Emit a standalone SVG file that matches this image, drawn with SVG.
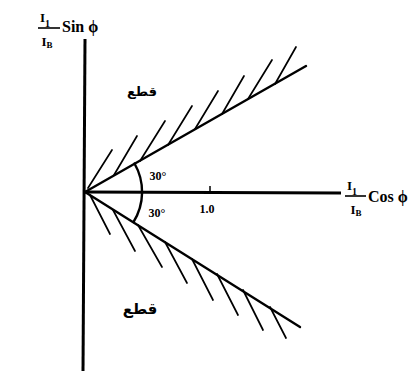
<svg xmlns="http://www.w3.org/2000/svg" width="419" height="371" viewBox="0 0 419 371">
<style>
.ax{stroke:#000;stroke-width:3;fill:none}
.bd{stroke:#000;stroke-width:2.4;fill:none;stroke-linecap:round}
.h{stroke:#000;stroke-width:1.7;fill:none;stroke-linecap:round}
.t{font-family:"Liberation Serif","DejaVu Serif",serif;font-weight:bold;fill:#000}
.ar{font-family:"DejaVu Sans","Noto Sans",sans-serif;font-weight:bold;fill:#000}
</style>
<rect width="419" height="371" fill="#fff"/>
<g id="axes">
<line class="ax" x1="85" y1="39" x2="83" y2="371"/>
<line class="ax" x1="85" y1="192" x2="341" y2="193"/>
<line stroke="#000" stroke-width="1.5" x1="210" y1="186" x2="210" y2="192"/>
</g>
<g id="connectors">
<line class="bd" x1="85" y1="192" x2="306" y2="66"/>
<line class="bd" x1="85" y1="192" x2="300" y2="327"/>
<g id="upper-hatch">
<line class="h" x1="88" y1="188" x2="112" y2="150"/>
<line class="h" x1="114" y1="175" x2="137" y2="136"/>
<line class="h" x1="140" y1="161" x2="165" y2="121"/>
<line class="h" x1="168" y1="145" x2="192" y2="106"/>
<line class="h" x1="195" y1="129" x2="218" y2="91"/>
<line class="h" x1="222" y1="114" x2="244" y2="76"/>
<line class="h" x1="248" y1="99" x2="272" y2="60"/>
<line class="h" x1="275" y1="84" x2="296" y2="47"/>
</g>
<g id="lower-hatch">
<line class="h" x1="90" y1="195" x2="110" y2="234"/>
<line class="h" x1="113" y1="210" x2="135" y2="251"/>
<line class="h" x1="138" y1="225" x2="162" y2="267"/>
<line class="h" x1="165" y1="242" x2="187" y2="283"/>
<line class="h" x1="192" y1="259" x2="213" y2="300"/>
<line class="h" x1="217" y1="274" x2="238" y2="315"/>
<line class="h" x1="243" y1="290" x2="263" y2="330"/>
<line class="h" x1="270" y1="307" x2="286" y2="338"/>
</g>
<path class="bd" d="M134.5 163.5 A57 57 0 0 1 133.5 222"/>
</g>
<g id="labels">
<text class="t" x="158" y="180" font-size="12" text-anchor="middle">30°</text>
<text class="t" x="157" y="217" font-size="12" text-anchor="middle">30°</text>
<text class="t" x="207" y="213" font-size="12" text-anchor="middle">1.0</text>
<text class="ar" x="142" y="96" font-size="13" text-anchor="middle">قطع</text>
<text class="ar" x="140" y="314" font-size="15" text-anchor="middle">قطع</text>
</g>
<g id="ylabel">
<text class="t" x="45" y="22" font-size="13" text-anchor="middle">I<tspan font-size="10" dy="5">1</tspan></text>
<line stroke="#000" stroke-width="1.6" x1="38" y1="28" x2="60" y2="28"/>
<text class="t" x="47" y="46" font-size="13" text-anchor="middle">I<tspan font-size="9" dy="2">B</tspan></text>
<text class="t" x="62" y="32" font-size="16">Sin ϕ</text>
</g>
<g id="xlabel">
<text class="t" x="352" y="190" font-size="13" text-anchor="middle">I<tspan font-size="10" dy="5">1</tspan></text>
<line stroke="#000" stroke-width="1.6" x1="345" y1="196" x2="366" y2="196"/>
<text class="t" x="356" y="214" font-size="13" text-anchor="middle">I<tspan font-size="9" dy="2">B</tspan></text>
<text class="t" x="368" y="202" font-size="16">Cos ϕ</text>
</g>
</svg>
